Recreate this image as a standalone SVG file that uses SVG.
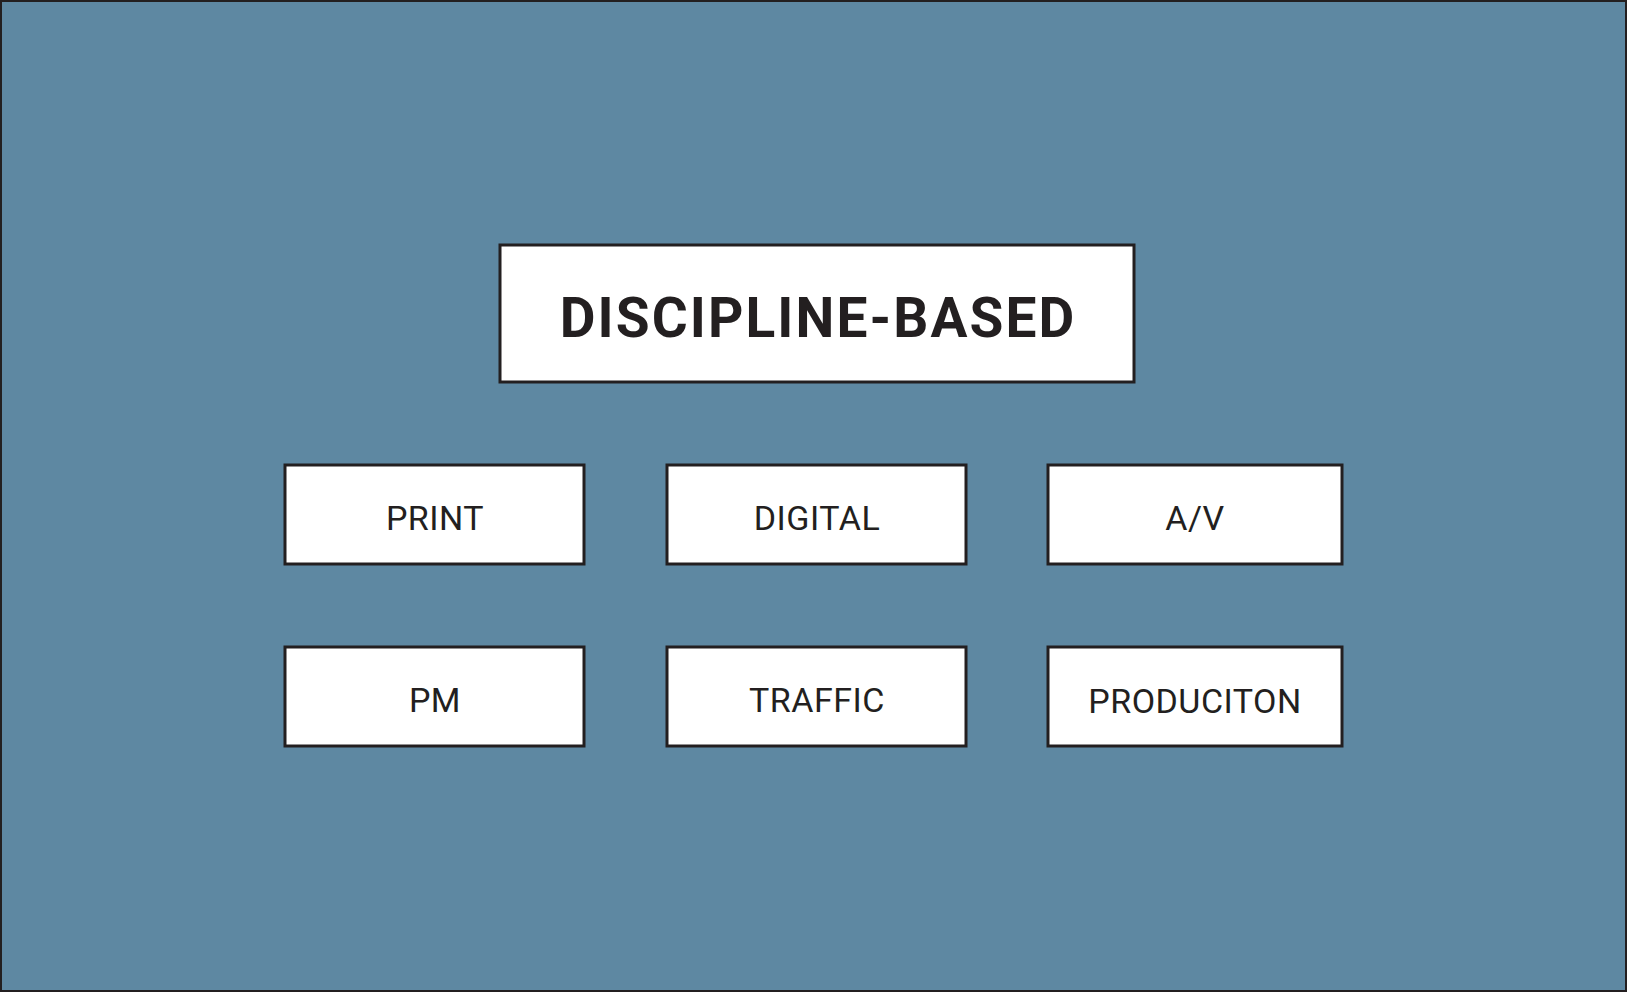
<svg xmlns="http://www.w3.org/2000/svg" width="1627" height="992" viewBox="0 0 1627 992">
<style>
.box{fill:#ffffff;stroke:#231f20;stroke-width:3}
.lbl{font-family:Roboto,"Liberation Sans",sans-serif;font-size:34px;fill:#231f20;text-anchor:middle;letter-spacing:0.5px}
.title{font-family:Roboto,"Liberation Sans",sans-serif;font-weight:bold;font-size:55px;fill:#231f20;text-anchor:middle;letter-spacing:2.1px}
</style>
<rect x="1" y="1" width="1625" height="990" fill="#5e88a2" stroke="#231f20" stroke-width="2"/>
<g id="connectors"></g>
<g id="discipline-based">
<rect class="box" x="500" y="245" width="634" height="137"/>
<text class="title" x="818" y="337">DISCIPLINE-BASED</text>
</g>
<g id="print">
<rect class="box" x="285" y="465" width="299" height="99"/>
<text class="lbl" x="435" y="530">PRINT</text>
</g>
<g id="digital">
<rect class="box" x="667" y="465" width="299" height="99"/>
<text class="lbl" x="817" y="530">DIGITAL</text>
</g>
<g id="av">
<rect class="box" x="1048" y="465" width="294" height="99"/>
<text class="lbl" x="1195" y="530">A/V</text>
</g>
<g id="pm">
<rect class="box" x="285" y="647" width="299" height="99"/>
<text class="lbl" x="435" y="712">PM</text>
</g>
<g id="traffic">
<rect class="box" x="667" y="647" width="299" height="99"/>
<text class="lbl" x="817" y="712">TRAFFIC</text>
</g>
<g id="produciton">
<rect class="box" x="1048" y="647" width="294" height="99"/>
<text class="lbl" x="1195" y="713">PRODUCITON</text>
</g>
</svg>
